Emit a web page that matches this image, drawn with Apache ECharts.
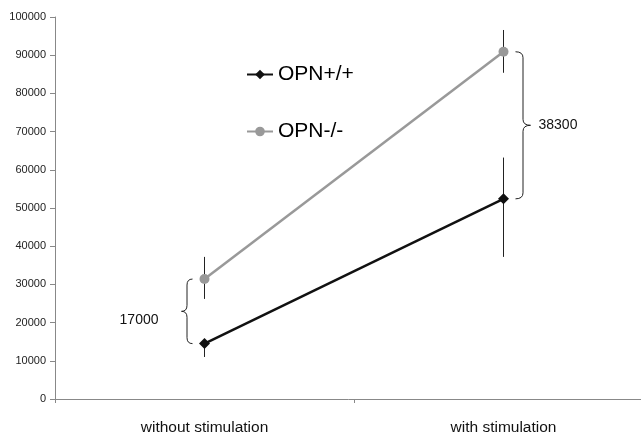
<!DOCTYPE html>
<html><head><meta charset="utf-8">
<script src="https://cdn.jsdelivr.net/npm/echarts@6/dist/echarts.min.js"></script>
<style>html,body{margin:0;padding:0;background:#fff}#c{width:641px;height:437px}</style>
</head><body><div id="c"></div>
<script>
var categories = ['without stimulation', 'with stimulation'];
var yTicks = [0, 10000, 20000, 30000, 40000, 50000, 60000, 70000, 80000, 90000, 100000];
var wtValues = [14500, 52400];
var wtLow = [11000, 37200];
var wtHigh = [14500, 63200];
var koValues = [31400, 90900];
var koLow = [26200, 85400];
var koHigh = [37200, 96600];
var diffLabels = ['17000', '38300'];

var chart = echarts.init(document.getElementById('c'));
var errData = [];
for (var i = 0; i < categories.length; i++) {
  errData.push([i, wtLow[i], wtHigh[i]]);
  errData.push([i, koLow[i], koHigh[i]]);
}
var braceData = [
  [0, wtValues[0], koValues[0], -1, diffLabels[0]],
  [1, wtValues[1], koValues[1], 1, diffLabels[1]]
];
function bracePath(x0, y1, y2, d, w) {
  var xm = x0 + d * w / 2, xt = x0 + d * w, ym = (y1 + y2) / 2, r = Math.min(6, (y2 - y1) / 4);
  return 'M' + x0 + ',' + y1 + ' Q' + xm + ',' + y1 + ' ' + xm + ',' + (y1 + r) +
    ' L' + xm + ',' + (ym - r) + ' Q' + xm + ',' + ym + ' ' + xt + ',' + ym +
    ' Q' + xm + ',' + ym + ' ' + xm + ',' + (ym + r) +
    ' L' + xm + ',' + (y2 - r) + ' Q' + xm + ',' + y2 + ' ' + x0 + ',' + y2;
}
chart.setOption({
  animation: false,
  backgroundColor: '#fff',
  grid: { left: 55, right: -12, top: 17, bottom: 38, outerBoundsMode: 'none', containLabel: false },
  legend: {
    orient: 'vertical', left: 241, top: 59, itemGap: 36, itemWidth: 26, itemHeight: 12,
    textStyle: { fontSize: 21, color: '#000', fontFamily: 'Liberation Sans, Arial' },
    data: ['OPN+/+', 'OPN-/-']
  },
  xAxis: {
    type: 'category', data: categories, boundaryGap: true,
    axisLine: { lineStyle: { color: '#888', width: 1 } },
    axisTick: { show: true, length: 4, lineStyle: { color: '#888' } },
    axisLabel: { fontSize: 15.5, color: '#111', margin: 21, fontFamily: 'Liberation Sans, Arial' }
  },
  yAxis: {
    type: 'value', min: 0, max: 100000, interval: 10000,
    axisLine: { show: true, lineStyle: { color: '#888', width: 1 } },
    axisTick: { show: true, length: 5, lineStyle: { color: '#888' } },
    splitLine: { show: false },
    axisLabel: { fontSize: 11, color: '#222', margin: 9, fontFamily: 'Liberation Sans, Arial',
      formatter: function (v) { return yTicks.indexOf(v) >= 0 ? String(v) : ''; } }
  },
  series: [
    {
      name: 'error', type: 'custom', z: 1, data: errData,
      renderItem: function (params, api) {
        var p1 = api.coord([api.value(0), api.value(1)]);
        var p2 = api.coord([api.value(0), api.value(2)]);
        return { type: 'line', shape: { x1: p1[0], y1: p1[1], x2: p2[0], y2: p2[1] },
          style: { stroke: '#222', lineWidth: 1 } };
      }
    },
    {
      name: 'OPN+/+', type: 'line', data: wtValues, z: 3,
      symbol: 'diamond', symbolSize: 11,
      lineStyle: { color: '#111', width: 2.5 }, itemStyle: { color: '#111' }
    },
    {
      name: 'OPN-/-', type: 'line', data: koValues, z: 3,
      symbol: 'circle', symbolSize: 10,
      lineStyle: { color: '#999', width: 2.5 }, itemStyle: { color: '#999' }
    },
    {
      name: 'brace', type: 'custom', z: 2, data: braceData,
      renderItem: function (params, api) {
        var d = api.value(3);
        var pLow = api.coord([api.value(0), api.value(1)]);
        var pHigh = api.coord([api.value(0), api.value(2)]);
        var x0 = pLow[0] + d * 12;
        var w = d > 0 ? 15 : 11;
        var y1 = pHigh[1], y2 = pLow[1];
        var ym = (y1 + y2) / 2;
        var txt = braceData[params.dataIndex][4];
        return { type: 'group', children: [
          { type: 'path', shape: { pathData: bracePath(x0, y1, y2, d, w) },
            style: { stroke: '#222', lineWidth: 1, fill: null } },
          { type: 'text', x: d > 0 ? x0 + w + 8 : x0 + d * w - 23, y: d > 0 ? ym : ym + 9,
            style: { text: txt, fontSize: 14, fill: '#111', fontFamily: 'Liberation Sans, Arial',
              align: d > 0 ? 'left' : 'right', verticalAlign: 'middle' } }
        ] };
      }
    }
  ]
});
</script></body></html>
